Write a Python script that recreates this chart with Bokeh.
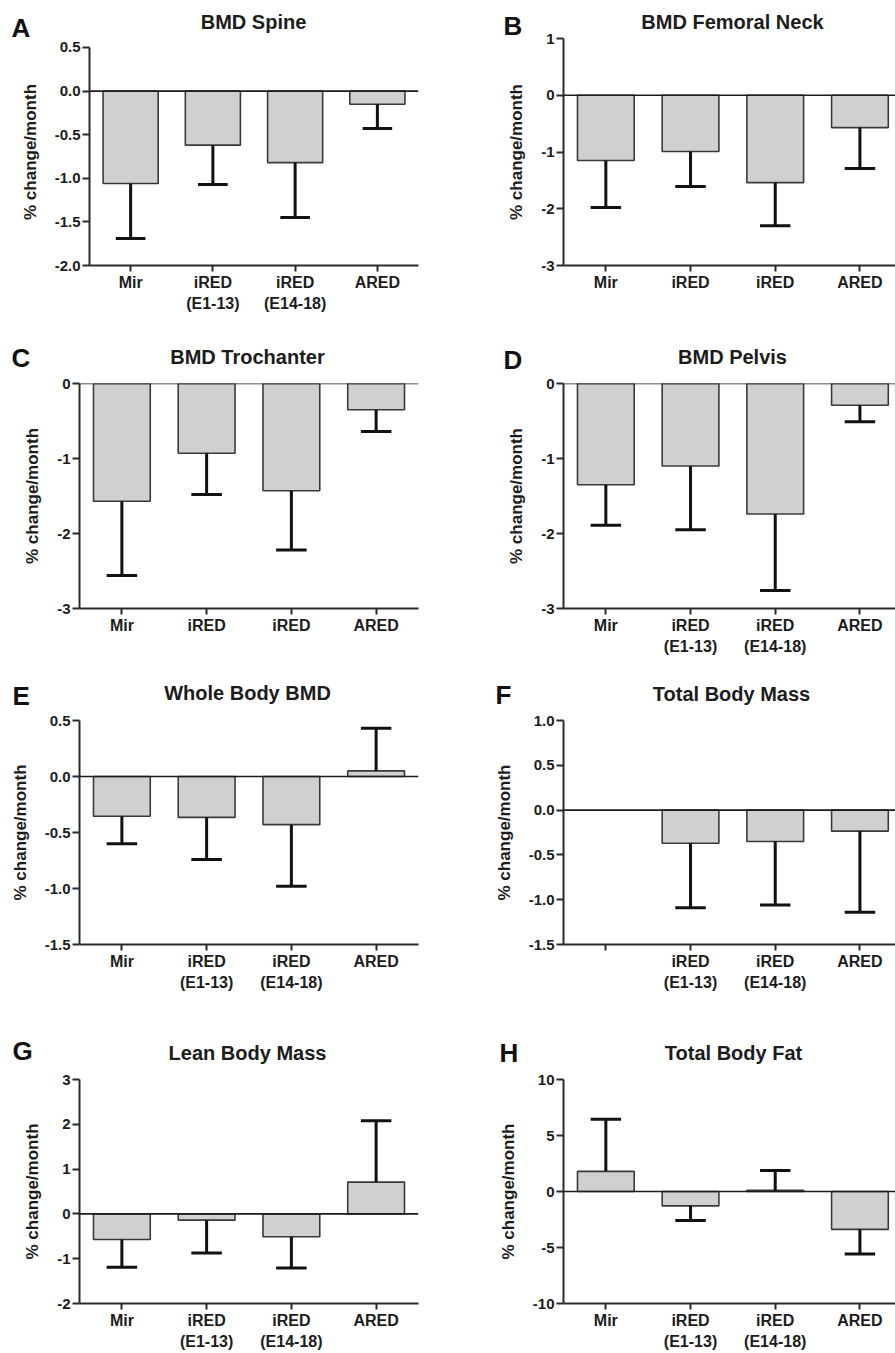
import math
from bokeh.plotting import figure
from bokeh.models import Range1d, FixedTicker, NumeralTickFormatter, Span, Label, ColumnDataSource
from bokeh.layouts import column, row
from bokeh.embed import file_html
from bokeh.resources import INLINE

# ---------------- data ----------------
groups = ["Mir", "iRED (E1-13)", "iRED (E14-18)", "ARED"]
xlab_two = ["Mir", "iRED\n(E1-13)", "iRED\n(E14-18)", "ARED"]
xlab_one = ["Mir", "iRED", "iRED", "ARED"]
xlab_F = ["", "iRED\n(E1-13)", "iRED\n(E14-18)", "ARED"]

spine_mean = [-1.06, -0.62, -0.82, -0.15]
spine_err = [0.63, 0.45, 0.63, 0.28]
femneck_mean = [-1.15, -0.99, -1.54, -0.57]
femneck_err = [0.83, 0.62, 0.76, 0.72]
troch_mean = [-1.57, -0.93, -1.43, -0.35]
troch_err = [0.99, 0.55, 0.79, 0.29]
pelvis_mean = [-1.35, -1.10, -1.74, -0.29]
pelvis_err = [0.54, 0.85, 1.02, 0.22]
wbbmd_mean = [-0.355, -0.365, -0.43, 0.05]
wbbmd_err = [0.245, 0.375, 0.55, 0.38]
tbmass_mean = [float("nan"), -0.37, -0.35, -0.235]
tbmass_err = [float("nan"), 0.72, 0.71, 0.905]
lean_mean = [-0.57, -0.14, -0.51, 0.71]
lean_err = [0.62, 0.73, 0.70, 1.37]
fat_mean = [1.8, -1.28, 0.1, -3.38]
fat_err = [4.65, 1.32, 1.77, 2.19]

ticks_A = [-2.0, -1.5, -1.0, -0.5, 0.0, 0.5]
ticks_B = [-3, -2, -1, 0, 1]
ticks_CD = [-3, -2, -1, 0]
ticks_E = [-1.5, -1.0, -0.5, 0.0, 0.5]
ticks_F = [-1.5, -1.0, -0.5, 0.0, 0.5, 1.0]
ticks_G = [-2, -1, 0, 1, 2, 3]
ticks_H = [-10, -5, 0, 5, 10]

FONT = "Liberation Sans"
INK = "#1c1c1c"
LW, RW = 445, 450


def panel(title, letter, means, errs, yticks, fmt, xlabels, width, height,
          bl, br, bt, bb, x_end, y_top, title_xy, letter_xy, letter_side):
    xs, tops, tips, cl, cr = [], [], [], [], []
    for i, (m, e) in enumerate(zip(means, errs)):
        if math.isnan(m):
            continue
        x = i + 1
        xs.append(x)
        tops.append(m)
        tips.append(m + e if m >= 0 else m - e)
        cl.append(x - 0.18)
        cr.append(x + 0.18)
    src = ColumnDataSource(dict(x=xs, top=tops, tip=tips, cl=cl, cr=cr))

    ylo, yhi = min(yticks), max(yticks)
    p = figure(width=width, height=height, output_backend="svg", toolbar_location=None,
               x_range=Range1d(0.5, x_end), y_range=Range1d(ylo, y_top if y_top is not None else yhi),
               min_border_left=bl, min_border_right=br, min_border_top=bt, min_border_bottom=bb)
    p.outline_line_color = None
    p.grid.visible = False
    p.background_fill_color = "white"
    p.border_fill_color = "white"

    p.vbar(x="x", top="top", bottom=0, width=0.67, source=src,
           fill_color="#d0d0d0", line_color="#3a3a3a", line_width=1.6)
    p.segment(x0="x", y0="top", x1="x", y1="tip", source=src, line_color="#111111", line_width=3)
    p.segment(x0="cl", y0="tip", x1="cr", y1="tip", source=src, line_color="#111111", line_width=3)
    p.add_layout(Span(location=0, dimension="width", line_color=INK, line_width=1.6))

    xa = p.xaxis[0]
    xa.ticker = FixedTicker(ticks=[1, 2, 3, 4])
    xa.major_label_overrides = {i + 1: t for i, t in enumerate(xlabels)}
    xa.minor_tick_line_color = None
    xa.major_tick_out = 6
    xa.major_tick_in = 0
    xa.major_label_standoff = 2
    xa.axis_line_width = 2
    xa.axis_line_color = "#2a2a2a"
    xa.major_tick_line_width = 2
    xa.major_tick_line_color = "#2a2a2a"
    xa.major_label_text_font = FONT
    xa.major_label_text_font_style = "bold"
    xa.major_label_text_font_size = "16px"
    xa.major_label_text_color = INK
    xa.major_label_text_line_height = 1.25

    ya = p.yaxis[0]
    ya.ticker = FixedTicker(ticks=yticks)
    ya.formatter = NumeralTickFormatter(format=fmt)
    ya.bounds = (ylo, yhi)
    ya.minor_tick_line_color = None
    ya.major_tick_out = 7
    ya.major_tick_in = 0
    ya.major_label_standoff = 2
    ya.axis_line_width = 2
    ya.axis_line_color = "#2a2a2a"
    ya.major_tick_line_width = 2
    ya.major_tick_line_color = "#2a2a2a"
    ya.major_label_text_font = FONT
    ya.major_label_text_font_style = "bold"
    ya.major_label_text_font_size = "15px"
    ya.major_label_text_color = INK
    ya.axis_label = "% change/month"
    ya.axis_label_text_font = FONT
    ya.axis_label_text_font_style = "bold"
    ya.axis_label_text_font_size = "17px"
    ya.axis_label_text_color = INK
    ya.axis_label_standoff = 12

    p.add_layout(Label(x=title_xy[0], y=title_xy[1], x_units="screen", y_units="screen",
                       text=title, text_font=FONT, text_font_style="bold", text_font_size="20px",
                       text_color=INK, text_align="center", text_baseline="middle"), "above")
    p.add_layout(Label(x=letter_xy[0], y=letter_xy[1], x_units="screen", y_units="screen",
                       text=letter, text_font=FONT, text_font_style="bold", text_font_size="26px",
                       text_color="#111111", text_align="left", text_baseline="middle"),
                 letter_side)
    return p


pA = panel("BMD Spine", "A", spine_mean, spine_err, ticks_A, "0.0", xlab_two,
           LW, 320, 89, 27, 38, 55, 4.5, 0.6032, (164, 16.8), (-407, 237.8), "right")
pB = panel("BMD Femoral Neck", "B", femneck_mean, femneck_err, ticks_B, "0", xlab_one,
           RW, 320, 118, 0, 38, 55, 4.42, None, (169, 16.8), (18, 239.2), "left")
pC = panel("BMD Trochanter", "C", troch_mean, troch_err, ticks_CD, "0", xlab_one,
           LW, 340, 79, 27, 63, 52, 4.5, None, (168, 27), (-407, 250.5), "right")
pD = panel("BMD Pelvis", "D", pelvis_mean, pelvis_err, ticks_CD, "0", xlab_two,
           RW, 340, 118, 0, 63, 52, 4.42, None, (169, 27), (18, 248.8), "left")
pE = panel("Whole Body BMD", "E", wbbmd_mean, wbbmd_err, ticks_E, "0.0", xlab_two,
           LW, 350, 79, 27, 60, 66, 4.5, None, (168, 27.2), (-406, 248.2), "right")
pF = panel("Total Body Mass", "F", tbmass_mean, tbmass_err, ticks_F, "0.0", xlab_F,
           RW, 350, 118, 0, 60, 66, 4.42, None, (168, 26.3), (20, 249.5), "left")
pG = panel("Lean Body Mass", "G", lean_mean, lean_err, ticks_G, "0", xlab_two,
           LW, 343, 79, 27, 69, 50, 4.5, None, (168, 27), (-406, 252.2), "right")
pH = panel("Total Body Fat", "H", fat_mean, fat_err, ticks_H, "0", xlab_two,
           RW, 343, 118, 0, 69, 50, 4.42, None, (170, 27), (23, 251), "left")

layout = column(row(pA, pB), row(pC, pD), row(pE, pF), row(pG, pH))

open("out.html", "w").write(file_html(layout, INLINE))
